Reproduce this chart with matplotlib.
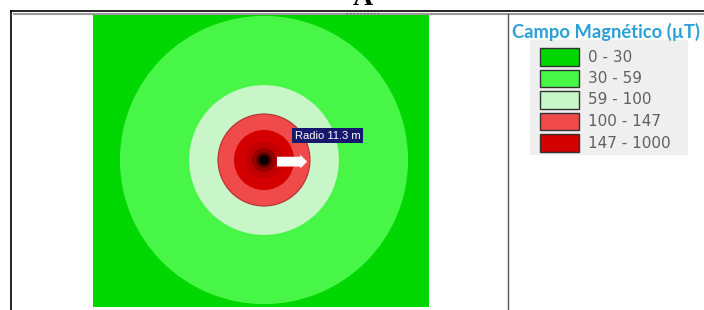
import matplotlib
matplotlib.use('Agg')
import matplotlib.pyplot as plt
from matplotlib.patches import Circle, Rectangle

# field bands (uT) and their colours
bands = ['0 - 30', '30 - 59', '59 - 100', '100 - 147', '147 - 1000']
band_colors = ['#00d600', '#48f648', '#c9f6c9', '#f04a4a', '#d40000']
# ring radius in metres for each band (first band fills the whole map)
ring_radius = [None, 35.4, 18.4, 11.3, 7.4]
# darker core shading inside the last band
core_radius = [4.6, 3.0, 1.8, 1.1]
core_colors = ['#c20000', '#960000', '#4a0000', '#000000']
radio_label = 'Radio 11.3 m'
radio_m = 11.3
legend_title = 'Campo Magnético (µT)'

W, H = 704, 310
fig = plt.figure(figsize=(W / 100, H / 100), dpi=100)

# map axes (pixels 93..429 x 15..307, centre at 264,160)
ppm = 46 / radio_m
ax = fig.add_axes([93 / W, 3 / H, 336 / W, 292 / H])
ax.set_xlim(-(264 - 93) / ppm, (429 - 264) / ppm)
ax.set_ylim(-(307 - 160) / ppm, (160 - 15) / ppm)
ax.set_facecolor(band_colors[0])
ax.set_xticks([])
ax.set_yticks([])
for s in ax.spines.values():
    s.set_visible(False)

for r, c in zip(ring_radius[1:], band_colors[1:]):
    ec = '#b03030' if c == band_colors[3] else 'none'
    ax.add_patch(Circle((0, 0), r, facecolor=c, edgecolor=ec, lw=0.8))
for r, c in zip(core_radius, core_colors):
    ax.add_patch(Circle((0, 0), r, facecolor=c, edgecolor='none'))

# radius arrow and label
ax.arrow(3.2, -0.4, radio_m - 0.7 - 3.2, 0, width=2.4, head_width=3.4,
         head_length=1.7, length_includes_head=True, color='white', lw=0)
ax.text(15.6, 6.0, radio_label, ha='center', va='center', color='white',
        fontsize=8, family='Liberation Sans',
        bbox=dict(boxstyle='square,pad=0.25', fc='#17176e', ec='none'))

# overlay in pixel coordinates for frame + legend
lax = fig.add_axes([0, 0, 1, 1])
lax.set_xlim(0, W)
lax.set_ylim(H, 0)
lax.axis('off')

lax.plot([11, W], [11, 11], color='black', lw=1.2)
lax.plot([14, W], [14, 14], color='#9a9a9a', lw=1.5)
lax.plot([11, 11], [11, H], color='black', lw=1.2)
lax.plot([508, 508], [14, H], color='#555555', lw=1)
lax.plot([346, 380], [12.5, 12.5], color='#666666', lw=1, ls=(0, (1, 1.5)))
lax.text(363, 5, 'A', ha='center', va='baseline', fontsize=20,
         family='Liberation Serif', fontweight='bold')

# legend
lax.add_patch(Rectangle((530, 40), 158, 115, fc='#efefef', ec='none'))
lax.text(512, 32, legend_title, ha='left', va='center', color='#2a9fd8',
         fontsize=13.2, family='Lato', fontweight='bold')
for i, (lab, c) in enumerate(zip(bands, band_colors)):
    y0 = 48 + i * 21.5
    lax.add_patch(Rectangle((540, y0), 39, 17.5, fc=c, ec='#333333', lw=1))
    lax.text(588, y0 + 9, lab, ha='left', va='center', color='#606060',
             fontsize=11, family='DejaVu Sans')

fig.savefig('out.png', dpi=100)
